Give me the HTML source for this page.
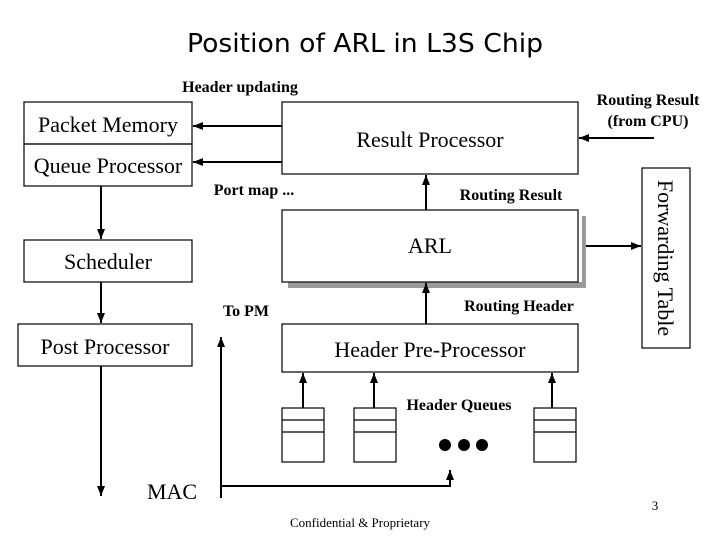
<!DOCTYPE html>
<html><head><meta charset="utf-8"><style>
body{margin:0;background:#fff}
svg text{font-family:"Liberation Serif",serif;fill:#000}
</style></head><body>
<svg width="720" height="540" viewBox="0 0 720 540" xmlns="http://www.w3.org/2000/svg">
<defs><marker id="a" viewBox="0 0 10 10" refX="10" refY="5" markerWidth="5" markerHeight="5" orient="auto"><path d="M0,1 L10,5 L0,9 z" fill="#000"/></marker></defs>
<text x="365" y="52" style="font-family:'DejaVu Sans',sans-serif" font-size="26" text-anchor="middle" textLength="356" lengthAdjust="spacingAndGlyphs">Position of ARL in L3S Chip</text>
<g fill="none" stroke="#000" stroke-width="1.2">
<rect x="24" y="102" width="168" height="42"/>
<rect x="24" y="144" width="168" height="42"/>
<rect x="282" y="102" width="296" height="72"/>
<rect x="582" y="216" width="4" height="72" fill="#999" stroke="none"/>
<rect x="288" y="282" width="298" height="6" fill="#999" stroke="none"/>
<rect x="282" y="210" width="296" height="72" fill="#fff"/>
<rect x="642" y="168" width="48" height="180"/>
<rect x="24" y="240" width="168" height="42"/>
<rect x="18" y="324" width="174" height="42"/>
<rect x="282" y="324" width="296" height="48"/>
<rect x="282" y="408" width="42" height="54"/><line x1="282" y1="420" x2="324" y2="420"/><line x1="282" y1="432" x2="324" y2="432"/>
<rect x="354" y="408" width="42" height="54"/><line x1="354" y1="420" x2="396" y2="420"/><line x1="354" y1="432" x2="396" y2="432"/>
<rect x="534" y="408" width="42" height="54"/><line x1="534" y1="420" x2="576" y2="420"/><line x1="534" y1="432" x2="576" y2="432"/>
</g>
<g stroke="#000" stroke-width="2" fill="none" marker-end="url(#a)">
<line x1="282" y1="126" x2="193" y2="126"/>
<line x1="282" y1="162" x2="193" y2="162"/>
<line x1="654" y1="138" x2="579" y2="138"/>
<line x1="426" y1="210" x2="426" y2="175"/>
<line x1="426" y1="324" x2="426" y2="283"/>
<line x1="586" y1="246" x2="641" y2="246"/>
<line x1="101" y1="186" x2="101" y2="239"/>
<line x1="101" y1="282" x2="101" y2="323"/>
<line x1="101" y1="366" x2="101" y2="496"/>
<line x1="221" y1="498" x2="221" y2="337"/>
<polyline points="221,486 450,486 450,470"/>
<line x1="303" y1="408" x2="303" y2="373"/>
<line x1="374" y1="408" x2="374" y2="373"/>
<line x1="552" y1="408" x2="552" y2="373"/>
</g>
<circle cx="445" cy="445" r="6"/><circle cx="464" cy="445" r="6"/><circle cx="482" cy="445" r="6"/>
<g font-size="22" text-anchor="middle">
<text x="108" y="132">Packet Memory</text>
<text x="108" y="173">Queue Processor</text>
<text x="430" y="147">Result Processor</text>
<text x="430" y="253">ARL</text>
<text x="108" y="269">Scheduler</text>
<text x="105" y="354">Post Processor</text>
<text x="430" y="357">Header Pre-Processor</text>
<text x="172" y="499">MAC</text>
<text transform="translate(658,258) rotate(90)" text-anchor="middle">Forwarding Table</text>
</g>
<g font-size="16" font-weight="bold" text-anchor="middle">
<text x="240" y="92">Header updating</text>
<text x="254" y="195">Port map ...</text>
<text x="511" y="200">Routing Result</text>
<text x="246" y="316">To PM</text>
<text x="519" y="311">Routing Header</text>
<text x="459" y="410">Header Queues</text>
<text x="648" y="105">Routing Result</text>
<text x="648" y="126">(from CPU)</text>
</g>
<text x="655" y="510" font-size="13" text-anchor="middle">3</text>
<text x="360" y="527" font-size="13" text-anchor="middle">Confidential &amp; Proprietary</text>
</svg>
</body></html>
